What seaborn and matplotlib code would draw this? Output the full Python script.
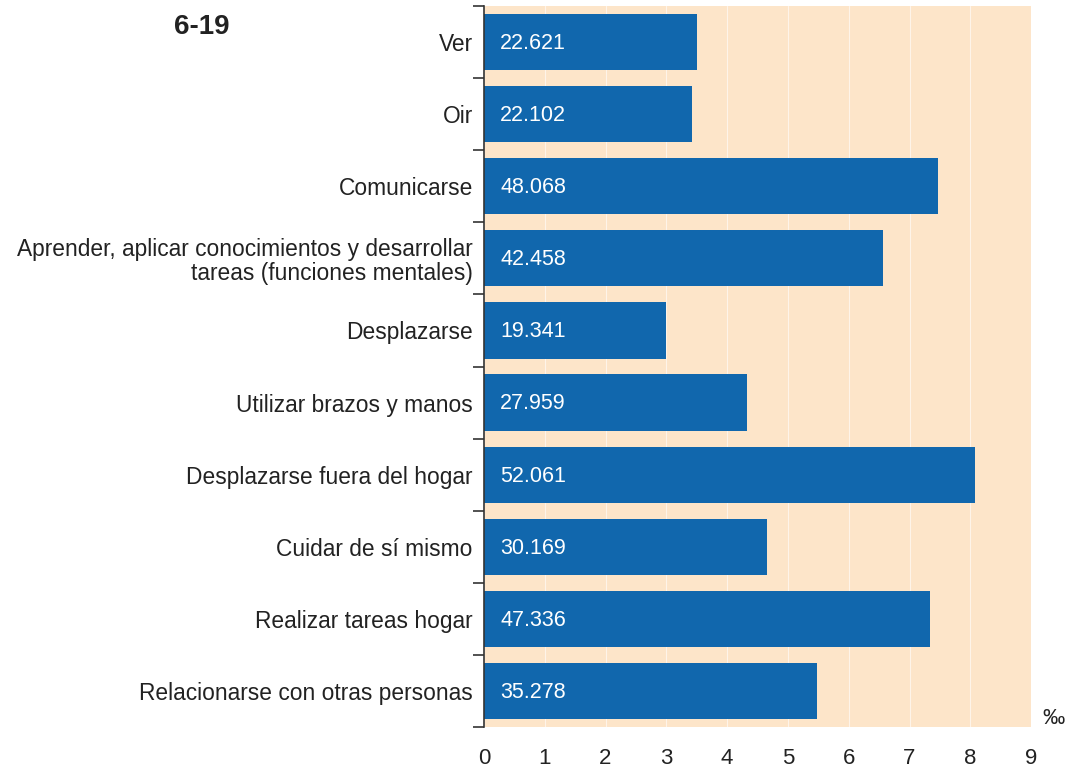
import numpy as np
import pandas as pd
import matplotlib.pyplot as plt
import seaborn as sns

# Datos: tasa por mil (6-19 anios) y numero de personas
categorias = ['Ver', 'Oir', 'Comunicarse',
              'Aprender, aplicar conocimientos y desarrollar\ntareas (funciones mentales)',
              'Desplazarse', 'Utilizar brazos y manos', 'Desplazarse fuera del hogar',
              'Cuidar de sí mismo', 'Realizar tareas hogar', 'Relacionarse con otras personas']
tasas = [3.50, 3.43, 7.47, 6.57, 2.99, 4.33, 8.08, 4.65, 7.34, 5.48]
personas = ['22.621', '22.102', '48.068', '42.458', '19.341',
            '27.959', '52.061', '30.169', '47.336', '35.278']
ticks_x = [0, 1, 2, 3, 4, 5, 6, 7, 8, 9]

df = pd.DataFrame({'categoria': categorias, 'tasa': tasas})

sns.set_style('white')
plt.rcParams['font.family'] = ['Liberation Sans', 'DejaVu Sans']

fig = plt.figure(figsize=(10.73, 7.69), dpi=100)
ax = fig.add_axes([0.451, 0.0546, 0.510, 0.9376])
ax.set_facecolor('#fde5c9')

sns.barplot(data=df, x='tasa', y='categoria', color='#1167ad', saturation=1,
            width=0.78, linewidth=0, ax=ax)

for i, txt in enumerate(personas):
    ax.text(0.27, i + 0.02, txt, color='white', fontsize=15.5, va='center', ha='left')

ax.set_xlim(0, 9)
ax.set_ylim(9.5, -0.5)
ax.set_xticks(ticks_x)
ax.set_xticklabels([str(t) for t in ticks_x], fontsize=16, color='#222222')
ax.tick_params(axis='x', length=0, pad=15)
ax.grid(axis='x', color='white', linewidth=0.8, alpha=0.6)
ax.set_axisbelow(True)

ax.set_yticks(range(len(categorias)))
ax.set_yticklabels(categorias, fontsize=16.4, linespacing=1.05, color='#222222')
ax.tick_params(axis='y', which='major', length=0, pad=8)
ax.set_yticks(np.arange(-0.5, 10, 1), minor=True)
ax.tick_params(axis='y', which='minor', left=True, length=8, width=1.2,
               color='#333333', direction='out')
ax.set_xlabel('')
ax.set_ylabel('')

for s in ['top', 'right', 'bottom']:
    ax.spines[s].set_visible(False)
ax.spines['left'].set_color('#333333')
ax.spines['left'].set_linewidth(1.2)

fig.text(0.982, 0.066, '‰', fontsize=16, ha='center', va='center', color='#222222')
fig.text(0.188, 0.965, '6-19', fontsize=20, fontweight='bold', ha='center', va='center',
         color='#222222')

plt.savefig('out.png', dpi=100)
